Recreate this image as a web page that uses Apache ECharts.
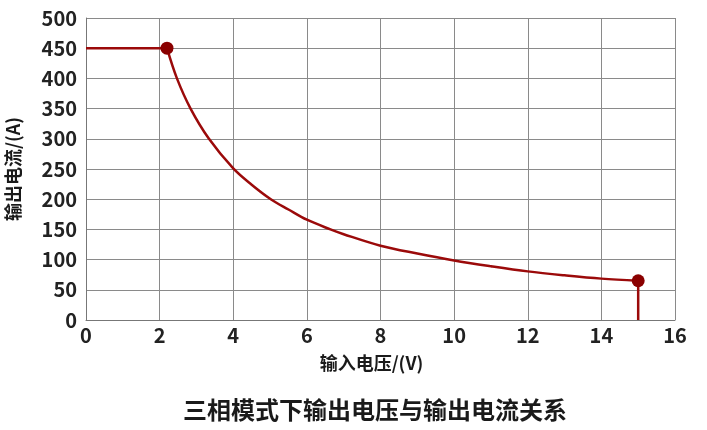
<!DOCTYPE html>
<html>
<head>
<meta charset="utf-8">
<script src="https://cdn.jsdelivr.net/npm/echarts@6/dist/echarts.min.js"></script>
<style>
  html, body { margin: 0; padding: 0; background: #fff; }
  #main { width: 707px; height: 430px; }
</style>
</head>
<body>
<div id="main"></div>
<script>
// 三相模式下 输出电流 vs 输入电压
var flatPart = [[0, 450], [2.2, 450]];
// 恒功率段
var curvePart = [[2.2, 450], [2.47, 400], [2.84, 350], [3.34, 300], [4.0, 251],
  [4.5, 224], [5.02, 200], [5.5, 183], [6.0, 166], [6.64, 150], [7.0, 142],
  [8.0, 123], [9.0, 110], [10.0, 98.5], [11.0, 89],
  [12.0, 80.5], [13.0, 74], [14.0, 68.5], [15.0, 65]];
var dropPart = [[15.0, 65], [15.0, 0]];
var keyPoints = [[2.2, 450], [15.0, 65]];

var xTicks = { min: 0, max: 16, step: 2 };
var yTicks = { min: 0, max: 500, step: 50 };

var red = '#9b0a0a';
var dotColor = '#8a0000';
var font = '"Noto Sans CJK SC", "Noto Sans", sans-serif';

var chart = echarts.init(document.getElementById('main'));

function lineSeries(data, smooth) {
  return {
    type: 'line',
    data: data,
    smooth: smooth,
    showSymbol: false,
    lineStyle: { color: red, width: 2.5 },
    animation: false
  };
}

var option = {
  animation: false,
  title: {
    text: '三相模式下输出电压与输出电流关系',
    left: 178,
    top: 393,
    textStyle: { fontFamily: font, fontSize: 24, fontWeight: 'bold', color: '#1a1a1a' }
  },
  grid: { left: 86, right: 32, top: 18, bottom: 110, outerBoundsMode: 'none' },
  xAxis: {
    type: 'value',
    min: xTicks.min, max: xTicks.max, interval: xTicks.step,
    name: '输入电压/(V)',
    nameLocation: 'middle',
    nameGap: 34,
    nameTextStyle: { fontFamily: font, fontSize: 18, fontWeight: 'bold', color: '#1a1a1a', padding: [0, 18, 0, 0] },
    axisLine: { show: true, lineStyle: { color: '#777', width: 1 } },
    axisTick: { show: false },
    axisLabel: { fontFamily: font, fontSize: 20, fontWeight: 'bold', color: '#222', margin: 5 },
    splitLine: { show: true, lineStyle: { color: '#8a8a8a', width: 1 } }
  },
  yAxis: {
    type: 'value',
    min: yTicks.min, max: yTicks.max, interval: yTicks.step,
    name: '输出电流/(A)',
    nameLocation: 'middle',
    nameGap: 64,
    nameRotate: 90,
    nameTextStyle: { fontFamily: font, fontSize: 18, fontWeight: 'bold', color: '#1a1a1a' },
    axisLine: { show: true, lineStyle: { color: '#777', width: 1 } },
    axisTick: { show: false },
    axisLabel: { fontFamily: font, fontSize: 20, fontWeight: 'bold', color: '#222', margin: 9 },
    splitLine: { show: true, lineStyle: { color: '#8a8a8a', width: 1 } }
  },
  series: [
    lineSeries(flatPart, false),
    lineSeries(curvePart, 0.35),
    lineSeries(dropPart, false),
    {
      type: 'scatter',
      data: keyPoints,
      symbolSize: 13,
      itemStyle: { color: dotColor, opacity: 1 },
      z: 5
    }
  ]
};

chart.setOption(option);
</script>
</body>
</html>
